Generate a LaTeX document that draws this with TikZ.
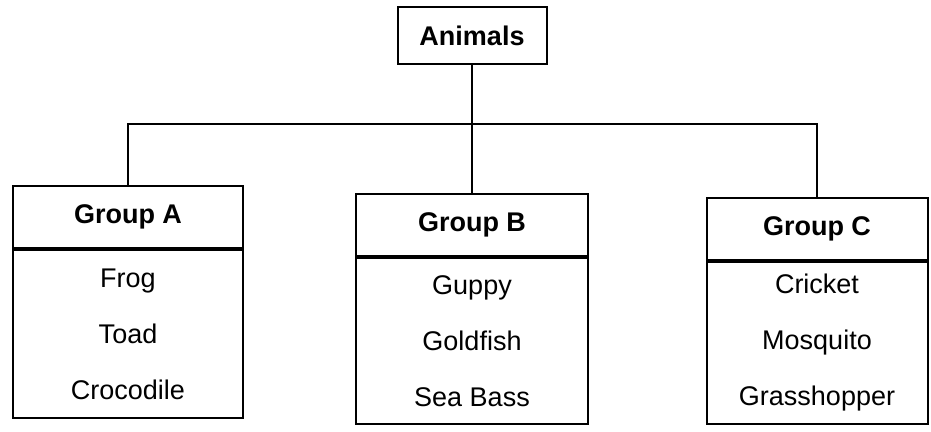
\documentclass[tikz,border=0pt]{standalone}
\usepackage{fontspec}
\setmainfont{Liberation Sans}
\usepackage{tikz}
\usetikzlibrary{positioning}

\begin{document}
\begin{tikzpicture}[x=0.5pt,y=-0.5pt,line width=1pt,
  title/.style={draw,inner sep=0pt,font=\bfseries\fontsize{13.5}{16}\selectfont},
  grouphead/.style={draw,inner sep=0pt,minimum height=31pt,font=\bfseries\fontsize{13.5}{16}\selectfont},
  grouplist/.style={draw,inner sep=0pt,align=center,minimum height=84pt,font=\fontsize{13.5}{16}\selectfont}]
\useasboundingbox (0,0) rectangle (931,432);

\node [title,minimum width=74.5pt,minimum height=28.5pt] (animals) at (472,36) {Animals};

\node [grouphead,minimum width=115pt] (grpA) at (128,217) {Group A};
\node [grouplist,minimum width=115pt,below=0pt of grpA] (listA) {Frog\\[12pt]Toad\\[12pt]Crocodile};

\node [grouphead,minimum width=116pt] (grpB) at (472,225) {Group B};
\node [grouplist,minimum width=116pt,minimum height=83pt,below=0pt of grpB] (listB) {Guppy\\[12pt]Goldfish\\[12pt]Sea Bass};

\node [grouphead,minimum width=110.5pt] (grpC) at (817,229) {Group C};
\node [grouplist,minimum width=110.5pt,minimum height=81pt,below=0pt of grpC] (listC) {Cricket\\[12pt]Mosquito\\[12pt]Grasshopper};

% tree lines
\coordinate (bus) at (472,124);
\draw (animals.south) -- (grpB.north);
\draw (grpA.north) |- (bus) -| (grpC.north);
\end{tikzpicture}
\end{document}
